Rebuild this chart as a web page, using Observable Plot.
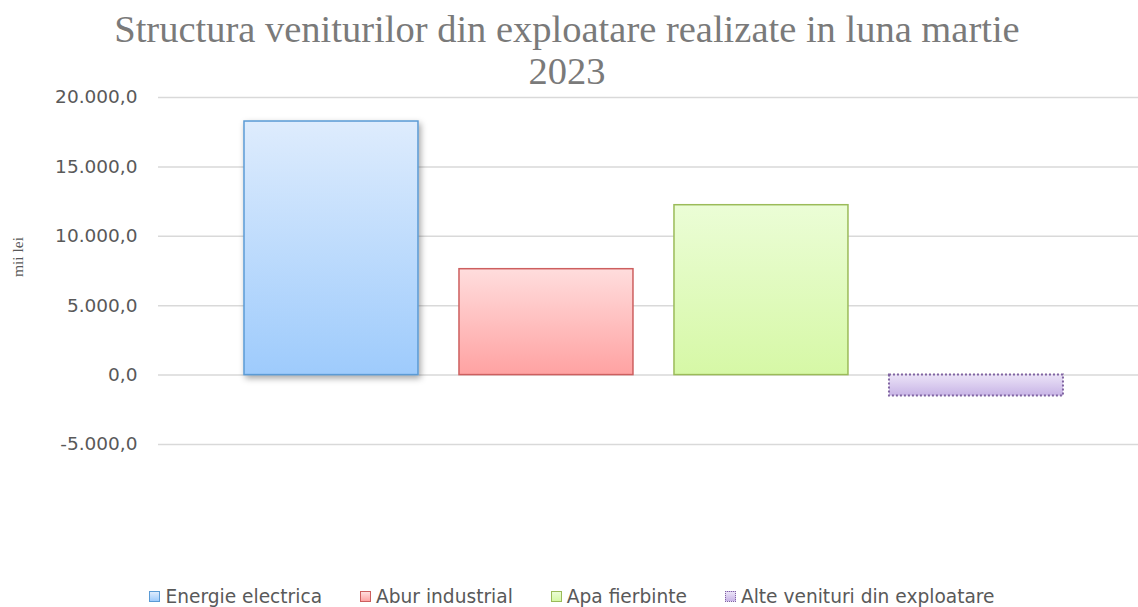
<!DOCTYPE html>
<html>
<head>
<meta charset="utf-8">
<script src="https://cdn.jsdelivr.net/npm/d3@7"></script>
<script src="https://cdn.jsdelivr.net/npm/@observablehq/plot@0.6"></script>
<style>
  html, body { margin: 0; padding: 0; background: #fff; }
  #wrap { width: 1138px; height: 607px; position: relative; overflow: hidden; }
  #title { font-family: "Liberation Serif", "Times New Roman", serif; font-size: 38.5px; line-height: 42px; color: #7a7a7a; text-align: center; width: 1138px; padding-top: 8px; height: 82px; box-sizing: content-box; position: relative; left: -2px; }
  #chart svg { display: block; }
  #legend { display: flex; justify-content: center; align-items: center; font-family: "DejaVu Sans", sans-serif; font-size: 18.6px; color: #595959; height: 24px; margin-top: 9px; padding-left: 6px; }
  .item { display: flex; align-items: center; margin: 0 19px; }
  .sw { width: 11px; height: 11px; margin-right: 5px; box-sizing: border-box; }
</style>
</head>
<body>
<div id="wrap">
  <div id="title">Structura veniturilor din exploatare realizate in luna martie<br>2023</div>
  <div id="chart"></div>
  <div id="legend"></div>
</div>
<script>
// ---- data ----
const categories = ["Energie electrica", "Abur industrial", "Apa fierbinte", "Alte venituri din exploatare"];
const values = [18270, 7630, 12240, -1510];
const yTicks = [-5000, 0, 5000, 10000, 15000, 20000];
const yLabel = "mii lei";

// ---- styles ----
const gradIds = ["gBlue", "gRed", "gGreen", "gPurple"];
const gradStops = [["#deecfd", "#9ecbfc"], ["#ffdddd", "#ffa2a2"], ["#ebfdd6", "#d6f8a6"], ["#ebe3f7", "#c8b4e6"]];
const strokes = ["#5b9bd5", "#cd5f5f", "#9bbb59", "#8064a2"];
const dashes = [null, null, null, "2,2"];

const data = categories.map((c, i) => ({cat: c, value: values[i], i}));

const loc = d3.formatLocale({decimal: ",", thousands: ".", grouping: [3], currency: ["", ""], minus: "-"});
const fmt = loc.format(",.1f");

const marks = [
  Plot.ruleY(yTicks, {stroke: "#d9d9d9", strokeWidth: 1.5}),
  ...data.map((d, i) => Plot.barY(data, {
    filter: e => e.i === i,
    x: "cat", y: "value",
    fill: `url(#${gradIds[i]})`,
    stroke: strokes[i],
    strokeWidth: i === 3 ? 2 : 1.5,
    strokeDasharray: dashes[i] || undefined,
    inset: 0
  })),
  Plot.axisY({ticks: yTicks, tickFormat: fmt, tickSize: 0, tickPadding: 21, fontSize: 18.5, fontFamily: "DejaVu Sans", color: "#595959", label: null}),
  Plot.text([yLabel], {frameAnchor: "left", textAnchor: "middle", dx: -140, dy: -14, rotate: -90, fontFamily: "Liberation Serif", fontSize: 15.5, fill: "#595959"})
];

const plot = Plot.plot({
  width: 1138,
  height: 485,
  marginLeft: 158,
  marginRight: 0,
  marginTop: 7,
  marginBottom: 131,
  x: {domain: categories, paddingInner: 0.1907, paddingOuter: 0.3745, align: 0.534, round: false, axis: null},
  y: {domain: [-5000, 20000], axis: null},
  style: {background: "#fff", overflow: "visible"},
  marks
});

// gradient defs + shadow
const svg = d3.select(plot);
const defs = svg.insert("defs", ":first-child");
gradIds.forEach((id, i) => {
  const g = defs.append("linearGradient").attr("id", id).attr("x1", 0).attr("y1", 0).attr("x2", 0).attr("y2", 1);
  g.append("stop").attr("offset", "0%").attr("stop-color", gradStops[i][0]);
  g.append("stop").attr("offset", "100%").attr("stop-color", gradStops[i][1]);
});
const f = defs.append("filter").attr("id", "shadow").attr("x", "-10%").attr("y", "-10%").attr("width", "130%").attr("height", "130%");
f.append("feDropShadow").attr("dx", 2).attr("dy", 3).attr("stdDeviation", 3).attr("flood-color", "#000").attr("flood-opacity", 0.35);
svg.selectAll("g[aria-label='bar']").filter((d, k) => k === 0).attr("filter", "url(#shadow)");

document.getElementById("chart").appendChild(plot);

// legend
const legend = d3.select("#legend");
categories.forEach((c, i) => {
  const it = legend.append("div").attr("class", "item");
  it.append("div").attr("class", "sw")
    .style("background", `linear-gradient(${gradStops[i][0]}, ${gradStops[i][1]})`)
    .style("border", `1.5px ${i === 3 ? "dotted" : "solid"} ${strokes[i]}`);
  it.append("span").text(c);
});
</script>
</body>
</html>
